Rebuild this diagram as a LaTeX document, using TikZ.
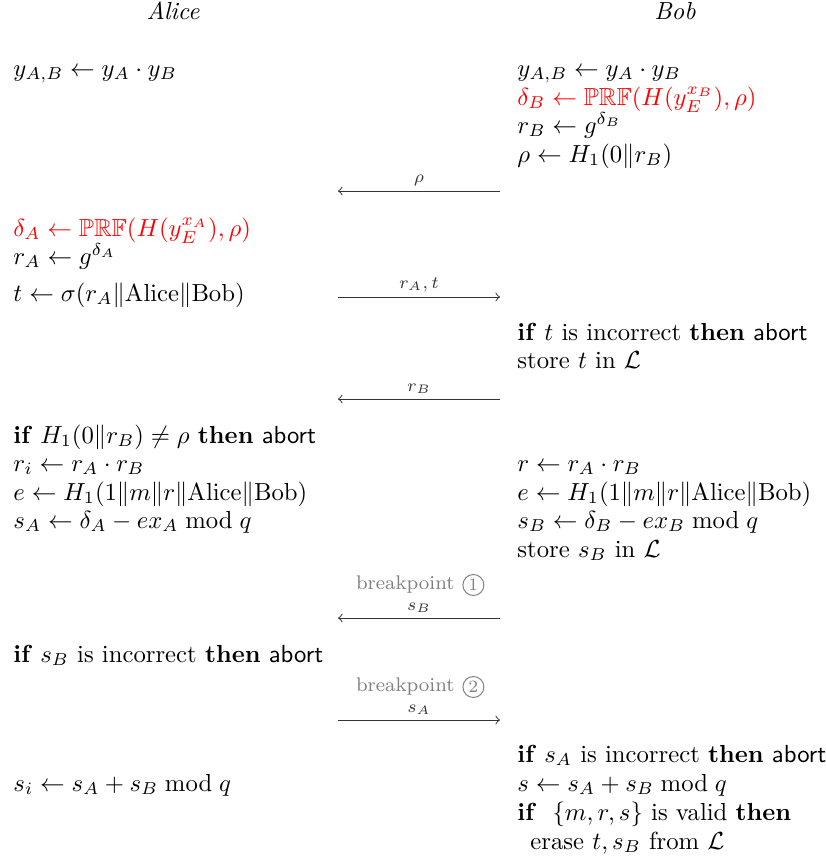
\documentclass[tikz,border=0pt]{standalone}
\usepackage{amsmath,amssymb}
\usepackage{xcolor}
\usetikzlibrary{positioning}

\newcommand{\kwif}{\textbf{if}}
\newcommand{\kwthen}{\textbf{then}}
\newcommand{\kwabort}{\textsf{abort}}

\begin{document}
\begin{tikzpicture}[
    x=0.405pt, y=-0.405pt,
    party/.style={anchor=base, font=\itshape, inner sep=0pt},
    stmt/.style={anchor=base west, inner sep=0pt},
    secret/.style={stmt, text=red},
    msg/.style={->, black!80},
    msglabel/.style={above, font=\scriptsize, inner sep=2pt},
    bp/.style={font=\footnotesize, text=black!50, inner sep=0pt},
    bpnum/.style={circle, draw=black!50, text=black!50, font=\scriptsize, inner sep=0pt, minimum size=8.5pt}
]
\useasboundingbox (0,0) rectangle (825,863);

% parties
\node[party] (alice) at (173,19) {Alice};
\node[party] (bob) at (675,19) {Bob};

% Alice
\node[stmt] (a1) at (13,76) {$y_{A,B} \leftarrow y_A \cdot y_B$};
\node[secret] (a2) at (13,236) {$\delta_A \leftarrow \mathbb{PRF}(H(y_E^{x_A}),\rho)$};
\node[stmt] (a3) at (13,264) {$r_A \leftarrow g^{\delta_A}$};
\node[stmt] (a4) at (13,301) {$t \leftarrow \sigma(r_A \| \mathrm{Alice} \| \mathrm{Bob})$};
\node[stmt] (a5) at (13,443) {\kwif{} $H_1(0\|r_B) \neq \rho$ \kwthen{} \kwabort};
\node[stmt] (a6) at (13,471) {$r_i \leftarrow r_A \cdot r_B$};
\node[stmt] (a7) at (13,500) {$e \leftarrow H_1(1\|m\|r\|\mathrm{Alice}\|\mathrm{Bob})$};
\node[stmt] (a8) at (13,528) {$s_A \leftarrow \delta_A - e x_A \bmod q$};
\node[stmt] (a9) at (13,662) {\kwif{} $s_B$ is incorrect \kwthen{} \kwabort};
\node[stmt] (a10) at (13,791) {$s_i \leftarrow s_A + s_B \bmod q$};

% Bob
\node[stmt] (b1) at (517,76) {$y_{A,B} \leftarrow y_A \cdot y_B$};
\node[secret] (b2) at (517,105) {$\delta_B \leftarrow \mathbb{PRF}(H(y_E^{x_B}),\rho)$};
\node[stmt] (b3) at (517,133) {$r_B \leftarrow g^{\delta_B}$};
\node[stmt] (b4) at (517,162) {$\rho \leftarrow H_1(0\|r_B)$};
\node[stmt] (b5) at (517,340) {\kwif{} $t$ is incorrect \kwthen{} \kwabort};
\node[stmt] (b6) at (517,368) {store $t$ in $\mathcal{L}$};
\node[stmt] (b7) at (517,471) {$r \leftarrow r_A \cdot r_B$};
\node[stmt] (b8) at (517,500) {$e \leftarrow H_1(1\|m\|r\|\mathrm{Alice}\|\mathrm{Bob})$};
\node[stmt] (b9) at (517,528) {$s_B \leftarrow \delta_B - e x_B \bmod q$};
\node[stmt] (b10) at (517,557) {store $s_B$ in $\mathcal{L}$};
\node[stmt] (b11) at (517,762) {\kwif{} $s_A$ is incorrect \kwthen{} \kwabort};
\node[stmt] (b12) at (517,791) {$s \leftarrow s_A + s_B \bmod q$};
\node[stmt] (b13) at (517,820) {\kwif\ \ $\{m,r,s\}$ is valid \kwthen};
\node[stmt] (b14) at (530,849) {erase $t, s_B$ from $\mathcal{L}$};

% messages
\coordinate (m1b) at (500,191); \coordinate (m1a) at (338,191);
\coordinate (m2b) at (500,297); \coordinate (m2a) at (338,297);
\coordinate (m3b) at (500,399); \coordinate (m3a) at (338,399);
\coordinate (m4b) at (500,618); \coordinate (m4a) at (338,618);
\coordinate (m5b) at (500,720); \coordinate (m5a) at (338,720);

\draw[msg] (m1b) -- node[msglabel] {$\rho$} (m1a);
\draw[msg] (m2a) -- node[msglabel] {$r_A,t$} (m2b);
\draw[msg] (m3b) -- node[msglabel] {$r_B$} (m3a);
\draw[msg] (m4b) -- node[msglabel] (l4) {$s_B$} (m4a);
\draw[msg] (m5a) -- node[msglabel] (l5) {$s_A$} (m5b);

% breakpoints
\node[bp, anchor=east] (bp1) at (455,585) {breakpoint};
\node[bpnum, right=3pt of bp1] (bpn1) {1};
\node[bp, anchor=east] (bp2) at (455,687) {breakpoint};
\node[bpnum, right=3pt of bp2] (bpn2) {2};

\end{tikzpicture}
\end{document}
